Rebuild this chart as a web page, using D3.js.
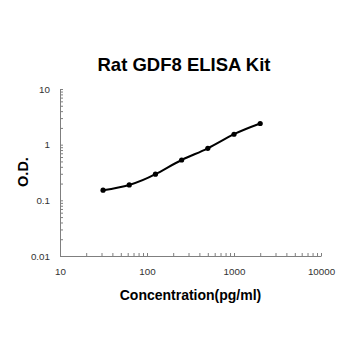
<!DOCTYPE html>
<html>
<head>
<meta charset="utf-8">
<script src="https://cdn.jsdelivr.net/npm/d3@7/dist/d3.min.js"></script>
<style>
  html, body { margin: 0; padding: 0; background: #fff; }
  svg { display: block; }
</style>
</head>
<body>
<svg id="chart" width="350" height="350"></svg>
<script>
const title = "Rat GDF8 ELISA Kit";
const xLabel = "Concentration(pg/ml)";
const yLabel = "O.D.";
const concentrations = [31.25, 62.5, 125, 250, 500, 1000, 2000];
const odValues = [0.152, 0.189, 0.295, 0.53, 0.86, 1.54, 2.4];
const xMajorTicks = [10, 100, 1000, 10000];
const yMajorTicks = [0.01, 0.1, 1, 10];
const xTickLabels = ["10", "100", "1000", "10000"];
const yTickLabels = ["0.01", "0.1", "1", "10"];

const svg = d3.select("#chart");
const plotLeft = 60, plotRight = 321, plotTop = 89, plotBottom = 256;

const x = d3.scaleLog().domain([10, 10000]).range([plotLeft, plotRight]);
const y = d3.scaleLog().domain([0.01, 10]).range([plotBottom, plotTop]);

const axisColor = "#7f7f7f";
const labelColor = "#333333";

const xAllTicks = x.ticks();
const yAllTicks = y.ticks();

const xAxis = d3.axisBottom(x)
  .tickValues(xAllTicks)
  .tickSizeInner(-3).tickSizeOuter(0)
  .tickFormat(d => { const i = xMajorTicks.findIndex(v => Math.abs(v - d) < 1e-9); return i >= 0 ? xTickLabels[i] : ""; });
const yAxis = d3.axisLeft(y)
  .tickValues(yAllTicks)
  .tickSizeInner(-3).tickSizeOuter(0)
  .tickFormat(d => { const i = yMajorTicks.findIndex(v => Math.abs(v - d) < 1e-9); return i >= 0 ? yTickLabels[i] : ""; });

const gx = svg.append("g").attr("transform", `translate(0,${plotBottom})`).call(xAxis);
const gy = svg.append("g").attr("transform", `translate(${plotLeft},0)`).call(yAxis);

[gx, gy].forEach(g => {
  g.select(".domain").attr("stroke", axisColor).attr("stroke-width", 1);
  g.selectAll(".tick line").attr("stroke", axisColor);
  g.selectAll(".tick text")
    .attr("fill", labelColor)
    .style("font-family", "'Liberation Sans', Arial, sans-serif")
    .style("font-size", "9.8px");
});
gx.selectAll(".tick text").attr("y", 12).attr("dy", "0.71em");
gy.selectAll(".tick text").attr("x", -10);

// Curve
const line = d3.line()
  .x((d, i) => x(concentrations[i]))
  .y(d => y(d))
  .curve(d3.curveNatural);

svg.append("path")
  .datum(odValues)
  .attr("d", line)
  .attr("fill", "none")
  .attr("stroke", "#000")
  .attr("stroke-width", 2);

svg.selectAll("circle.pt")
  .data(odValues)
  .enter().append("circle")
  .attr("class", "pt")
  .attr("cx", (d, i) => x(concentrations[i]))
  .attr("cy", d => y(d))
  .attr("r", 2.6)
  .attr("fill", "#000");

// Title
svg.append("text")
  .attr("x", 184).attr("y", 71)
  .attr("text-anchor", "middle")
  .style("font-family", "'Liberation Sans', Arial, sans-serif")
  .style("font-weight", "bold")
  .style("font-size", "18.5px")
  .attr("fill", "#000")
  .text(title);

svg.append("text")
  .attr("x", 190.5).attr("y", 300)
  .attr("text-anchor", "middle")
  .style("font-family", "'Liberation Sans', Arial, sans-serif")
  .style("font-weight", "bold")
  .style("font-size", "14px")
  .attr("fill", "#000")
  .text(xLabel);

svg.append("text")
  .attr("transform", `translate(28,172) rotate(-90)`)
  .attr("text-anchor", "middle")
  .style("font-family", "'Liberation Sans', Arial, sans-serif")
  .style("font-weight", "bold")
  .style("font-size", "14.5px")
  .attr("fill", "#000")
  .text(yLabel);
</script>
</body>
</html>
